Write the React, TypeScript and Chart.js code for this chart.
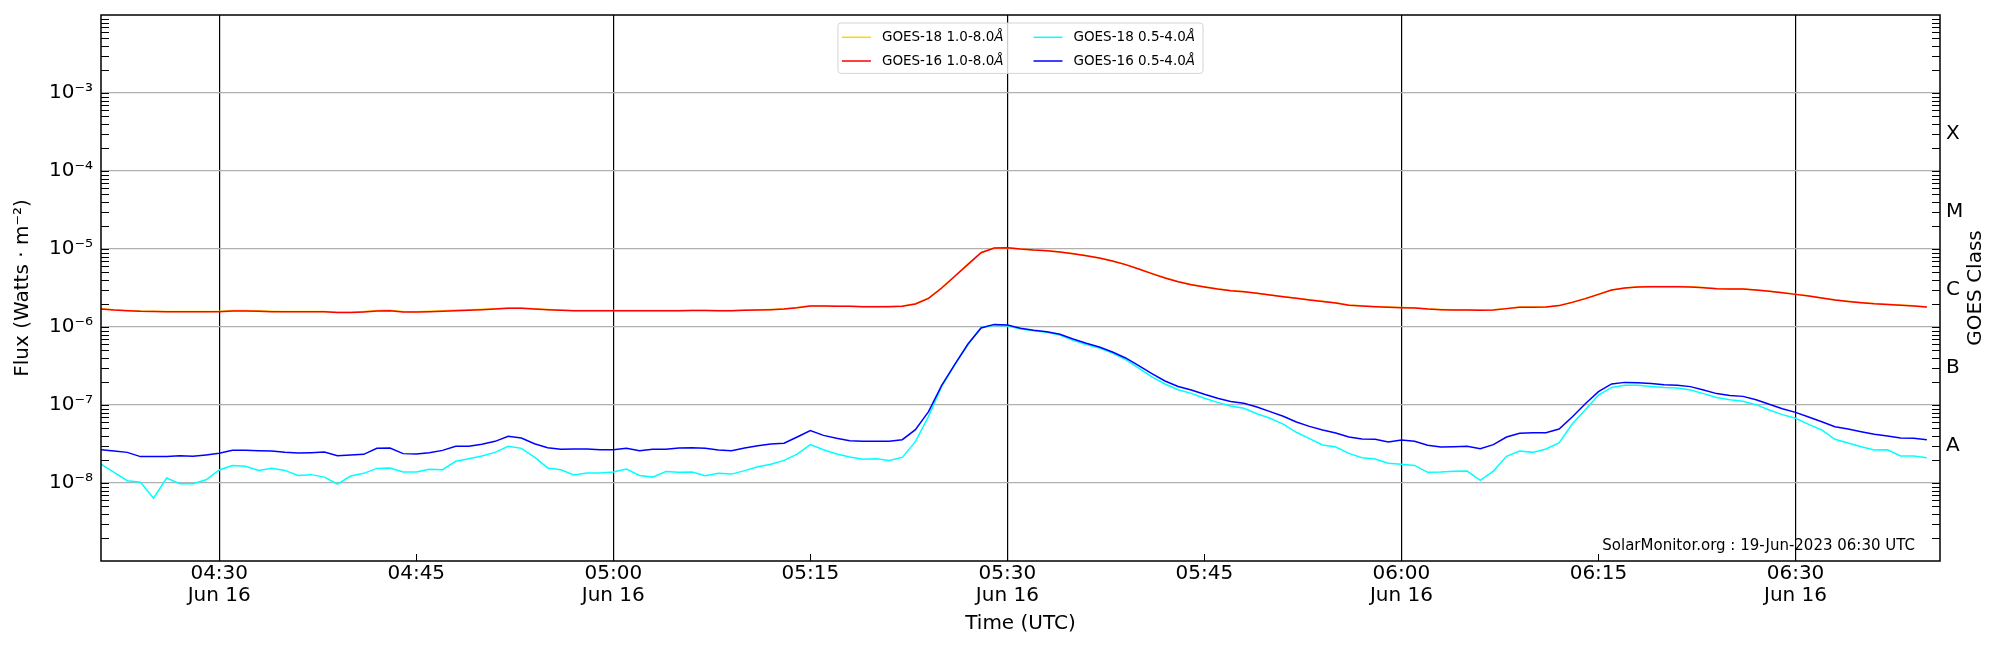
import { useEffect, useRef } from "react";
import { Chart, registerables } from "chart.js";

Chart.register(...registerables);

// one-minute samples, 16 Jun 2023
const times = [
  "04:21", "04:22", "04:23", "04:24", "04:25", "04:26", "04:27", "04:28", "04:29", "04:30",
  "04:31", "04:32", "04:33", "04:34", "04:35", "04:36", "04:37", "04:38", "04:39", "04:40",
  "04:41", "04:42", "04:43", "04:44", "04:45", "04:46", "04:47", "04:48", "04:49", "04:50",
  "04:51", "04:52", "04:53", "04:54", "04:55", "04:56", "04:57", "04:58", "04:59", "05:00",
  "05:01", "05:02", "05:03", "05:04", "05:05", "05:06", "05:07", "05:08", "05:09", "05:10",
  "05:11", "05:12", "05:13", "05:14", "05:15", "05:16", "05:17", "05:18", "05:19", "05:20",
  "05:21", "05:22", "05:23", "05:24", "05:25", "05:26", "05:27", "05:28", "05:29", "05:30",
  "05:31", "05:32", "05:33", "05:34", "05:35", "05:36", "05:37", "05:38", "05:39", "05:40",
  "05:41", "05:42", "05:43", "05:44", "05:45", "05:46", "05:47", "05:48", "05:49", "05:50",
  "05:51", "05:52", "05:53", "05:54", "05:55", "05:56", "05:57", "05:58", "05:59", "06:00",
  "06:01", "06:02", "06:03", "06:04", "06:05", "06:06", "06:07", "06:08", "06:09", "06:10",
  "06:11", "06:12", "06:13", "06:14", "06:15", "06:16", "06:17", "06:18", "06:19", "06:20",
  "06:21", "06:22", "06:23", "06:24", "06:25", "06:26", "06:27", "06:28", "06:29", "06:30",
  "06:31", "06:32", "06:33", "06:34", "06:35", "06:36", "06:37", "06:38", "06:39", "06:40",
];

const goes18Long = [
  1.71e-6, 1.66e-6, 1.63e-6, 1.60e-6, 1.59e-6, 1.58e-6, 1.58e-6, 1.58e-6, 1.58e-6, 1.59e-6,
  1.63e-6, 1.63e-6, 1.61e-6, 1.59e-6, 1.58e-6, 1.58e-6, 1.58e-6, 1.58e-6, 1.55e-6, 1.55e-6,
  1.58e-6, 1.63e-6, 1.64e-6, 1.58e-6, 1.57e-6, 1.59e-6, 1.62e-6, 1.65e-6, 1.67e-6, 1.69e-6,
  1.72e-6, 1.75e-6, 1.75e-6, 1.71e-6, 1.68e-6, 1.65e-6, 1.63e-6, 1.63e-6, 1.63e-6, 1.63e-6,
  1.63e-6, 1.63e-6, 1.63e-6, 1.63e-6, 1.63e-6, 1.64e-6, 1.64e-6, 1.63e-6, 1.63e-6, 1.65e-6,
  1.66e-6, 1.68e-6, 1.71e-6, 1.78e-6, 1.87e-6, 1.87e-6, 1.85e-6, 1.85e-6, 1.83e-6, 1.83e-6,
  1.84e-6, 1.86e-6, 1.99e-6, 2.35e-6, 3.18e-6, 4.50e-6, 6.40e-6, 9.02e-6, 1.03e-5, 1.04e-5,
  1.00e-5, 9.72e-6, 9.55e-6, 9.18e-6, 8.74e-6, 8.24e-6, 7.69e-6, 7.03e-6, 6.32e-6, 5.56e-6,
  4.85e-6, 4.27e-6, 3.83e-6, 3.51e-6, 3.28e-6, 3.09e-6, 2.94e-6, 2.85e-6, 2.71e-6, 2.58e-6,
  2.46e-6, 2.34e-6, 2.23e-6, 2.14e-6, 2.04e-6, 1.91e-6, 1.87e-6, 1.83e-6, 1.80e-6, 1.78e-6,
  1.76e-6, 1.71e-6, 1.68e-6, 1.66e-6, 1.66e-6, 1.65e-6, 1.66e-6, 1.73e-6, 1.80e-6, 1.80e-6,
  1.81e-6, 1.89e-6, 2.08e-6, 2.32e-6, 2.63e-6, 2.99e-6, 3.17e-6, 3.27e-6, 3.30e-6, 3.30e-6,
  3.30e-6, 3.27e-6, 3.20e-6, 3.11e-6, 3.08e-6, 3.08e-6, 2.99e-6, 2.88e-6, 2.76e-6, 2.63e-6,
  2.51e-6, 2.36e-6, 2.23e-6, 2.14e-6, 2.06e-6, 2.00e-6, 1.96e-6, 1.91e-6, 1.87e-6, 1.81e-6,
];

const goes16Long = [
  1.70e-6, 1.65e-6, 1.62e-6, 1.59e-6, 1.58e-6, 1.57e-6, 1.57e-6, 1.57e-6, 1.57e-6, 1.57e-6,
  1.60e-6, 1.60e-6, 1.59e-6, 1.57e-6, 1.57e-6, 1.57e-6, 1.57e-6, 1.57e-6, 1.53e-6, 1.53e-6,
  1.56e-6, 1.60e-6, 1.62e-6, 1.56e-6, 1.56e-6, 1.57e-6, 1.59e-6, 1.62e-6, 1.64e-6, 1.67e-6,
  1.70e-6, 1.74e-6, 1.74e-6, 1.70e-6, 1.67e-6, 1.64e-6, 1.62e-6, 1.62e-6, 1.62e-6, 1.62e-6,
  1.62e-6, 1.62e-6, 1.62e-6, 1.62e-6, 1.62e-6, 1.63e-6, 1.63e-6, 1.62e-6, 1.62e-6, 1.64e-6,
  1.65e-6, 1.67e-6, 1.70e-6, 1.77e-6, 1.86e-6, 1.86e-6, 1.84e-6, 1.84e-6, 1.82e-6, 1.82e-6,
  1.82e-6, 1.84e-6, 1.97e-6, 2.33e-6, 3.16e-6, 4.47e-6, 6.36e-6, 8.97e-6, 1.03e-5, 1.04e-5,
  1.00e-5, 9.70e-6, 9.53e-6, 9.16e-6, 8.72e-6, 8.22e-6, 7.67e-6, 7.01e-6, 6.30e-6, 5.54e-6,
  4.83e-6, 4.25e-6, 3.81e-6, 3.49e-6, 3.26e-6, 3.07e-6, 2.92e-6, 2.84e-6, 2.70e-6, 2.57e-6,
  2.45e-6, 2.33e-6, 2.22e-6, 2.13e-6, 2.03e-6, 1.90e-6, 1.86e-6, 1.82e-6, 1.79e-6, 1.77e-6,
  1.75e-6, 1.70e-6, 1.67e-6, 1.65e-6, 1.65e-6, 1.64e-6, 1.65e-6, 1.72e-6, 1.79e-6, 1.79e-6,
  1.80e-6, 1.88e-6, 2.07e-6, 2.31e-6, 2.62e-6, 2.98e-6, 3.16e-6, 3.26e-6, 3.29e-6, 3.29e-6,
  3.29e-6, 3.26e-6, 3.19e-6, 3.10e-6, 3.07e-6, 3.07e-6, 2.98e-6, 2.87e-6, 2.75e-6, 2.62e-6,
  2.50e-6, 2.35e-6, 2.22e-6, 2.13e-6, 2.05e-6, 1.99e-6, 1.95e-6, 1.90e-6, 1.86e-6, 1.80e-6,
];

const goes18Short = [
  1.75e-8, 1.37e-8, 1.07e-8, 1.02e-8, 6.40e-9, 1.16e-8, 9.80e-9, 9.80e-9, 1.10e-8, 1.47e-8,
  1.68e-8, 1.64e-8, 1.45e-8, 1.54e-8, 1.45e-8, 1.25e-8, 1.28e-8, 1.19e-8, 9.70e-9, 1.23e-8,
  1.33e-8, 1.54e-8, 1.56e-8, 1.38e-8, 1.38e-8, 1.50e-8, 1.48e-8, 1.90e-8, 2.05e-8, 2.22e-8,
  2.47e-8, 2.95e-8, 2.78e-8, 2.15e-8, 1.56e-8, 1.48e-8, 1.27e-8, 1.34e-8, 1.34e-8, 1.38e-8,
  1.51e-8, 1.25e-8, 1.19e-8, 1.40e-8, 1.37e-8, 1.38e-8, 1.24e-8, 1.33e-8, 1.30e-8, 1.44e-8,
  1.62e-8, 1.74e-8, 1.95e-8, 2.35e-8, 3.10e-8, 2.67e-8, 2.35e-8, 2.15e-8, 2.01e-8, 2.05e-8,
  1.95e-8, 2.13e-8, 3.39e-8, 7.16e-8, 1.73e-7, 3.29e-7, 5.94e-7, 9.90e-7, 1.05e-6, 1.04e-6,
  9.42e-7, 8.97e-7, 8.55e-7, 7.89e-7, 6.74e-7, 5.94e-7, 5.38e-7, 4.64e-7, 3.81e-7, 2.98e-7,
  2.29e-7, 1.86e-7, 1.57e-7, 1.41e-7, 1.22e-7, 1.08e-7, 9.70e-8, 9.06e-8, 7.74e-8, 6.75e-8,
  5.70e-8, 4.47e-8, 3.70e-8, 3.07e-8, 2.89e-8, 2.40e-8, 2.11e-8, 2.03e-8, 1.79e-8, 1.74e-8,
  1.68e-8, 1.37e-8, 1.38e-8, 1.41e-8, 1.42e-8, 1.08e-8, 1.42e-8, 2.20e-8, 2.57e-8, 2.47e-8,
  2.73e-8, 3.26e-8, 5.70e-8, 8.71e-8, 1.34e-7, 1.68e-7, 1.79e-7, 1.79e-7, 1.73e-7, 1.68e-7,
  1.65e-7, 1.56e-7, 1.40e-7, 1.25e-7, 1.17e-7, 1.12e-7, 1.01e-7, 8.63e-8, 7.52e-8, 6.75e-8,
  5.65e-8, 4.78e-8, 3.63e-8, 3.26e-8, 2.92e-8, 2.65e-8, 2.67e-8, 2.22e-8, 2.22e-8, 2.11e-8,
];

const goes16Short = [
  2.67e-8, 2.57e-8, 2.47e-8, 2.18e-8, 2.18e-8, 2.18e-8, 2.24e-8, 2.20e-8, 2.29e-8, 2.40e-8,
  2.62e-8, 2.62e-8, 2.60e-8, 2.57e-8, 2.47e-8, 2.42e-8, 2.45e-8, 2.50e-8, 2.24e-8, 2.29e-8,
  2.33e-8, 2.78e-8, 2.81e-8, 2.38e-8, 2.35e-8, 2.45e-8, 2.62e-8, 2.95e-8, 2.95e-8, 3.13e-8,
  3.42e-8, 3.96e-8, 3.78e-8, 3.19e-8, 2.84e-8, 2.70e-8, 2.73e-8, 2.73e-8, 2.67e-8, 2.67e-8,
  2.78e-8, 2.60e-8, 2.70e-8, 2.70e-8, 2.81e-8, 2.84e-8, 2.78e-8, 2.65e-8, 2.60e-8, 2.81e-8,
  3.01e-8, 3.16e-8, 3.23e-8, 3.89e-8, 4.69e-8, 4.08e-8, 3.74e-8, 3.49e-8, 3.42e-8, 3.42e-8,
  3.42e-8, 3.59e-8, 4.83e-8, 8.22e-8, 1.78e-7, 3.32e-7, 6.05e-7, 9.71e-7, 1.08e-6, 1.06e-6,
  9.62e-7, 9.06e-7, 8.71e-7, 8.05e-7, 7.01e-7, 6.18e-7, 5.54e-7, 4.78e-7, 4.01e-7, 3.19e-7,
  2.52e-7, 2.03e-7, 1.73e-7, 1.56e-7, 1.37e-7, 1.22e-7, 1.11e-7, 1.05e-7, 9.42e-8, 8.22e-8,
  7.16e-8, 6.05e-8, 5.32e-8, 4.78e-8, 4.38e-8, 3.89e-8, 3.66e-8, 3.63e-8, 3.36e-8, 3.56e-8,
  3.42e-8, 3.04e-8, 2.89e-8, 2.92e-8, 2.95e-8, 2.75e-8, 3.10e-8, 3.89e-8, 4.33e-8, 4.42e-8,
  4.42e-8, 4.92e-8, 7.02e-8, 1.04e-7, 1.48e-7, 1.86e-7, 1.95e-7, 1.93e-7, 1.88e-7, 1.82e-7,
  1.79e-7, 1.72e-7, 1.56e-7, 1.40e-7, 1.32e-7, 1.29e-7, 1.17e-7, 1.02e-7, 8.97e-8, 8.05e-8,
  7.02e-8, 6.11e-8, 5.27e-8, 4.92e-8, 4.55e-8, 4.21e-8, 4.01e-8, 3.78e-8, 3.74e-8, 3.59e-8,
];

const timeTicks = ["04:30", "04:45", "05:00", "05:15", "05:30", "05:45", "06:00", "06:15", "06:30"];
const dateLabel = "Jun 16";
const fluxDecades = [1e-9, 1e-8, 1e-7, 1e-6, 1e-5, 1e-4, 1e-3, 1e-2];
const classLevels = [3e-8, 3e-7, 3e-6, 3e-5, 3e-4];
const classLetters = ["A", "B", "C", "M", "X"];
const stamp = "SolarMonitor.org : 19-Jun-2023 06:30 UTC";

const FONT = "'DejaVu Sans', 'Liberation Sans', sans-serif";
const SUP: Record<string, string> = { "-": "⁻", "0": "⁰", "1": "¹", "2": "²", "3": "³", "4": "⁴", "5": "⁵", "6": "⁶", "7": "⁷", "8": "⁸", "9": "⁹" };

const toMin = (t: string) => {
  const [h, m] = t.split(":").map(Number);
  return h * 60 + m;
};
const fmtMin = (v: number) => {
  const h = Math.floor(v / 60);
  const m = Math.round(v - h * 60);
  return String(h).padStart(2, "0") + ":" + String(m).padStart(2, "0");
};
const decadeLabel = (v: number) => {
  const e = Math.round(Math.log10(v));
  if (e < -8 || e > -3) return "";
  return "10" + String(e).split("").map((c) => SUP[c]).join("");
};

const series = (vals: number[]) => vals.map((y, i) => ({ x: toMin(times[i]), y }));

// inward tick marks, frame, stamp and right-hand title
const decorPlugin = {
  id: "decor",
  afterDraw(chart: any) {
    const { ctx, chartArea: a, scales } = chart;
    const ys = scales.y;
    const xs = scales.x;
    ctx.save();
    ctx.strokeStyle = "#000";
    ctx.lineWidth = 1;
    ctx.beginPath();
    for (let e = -9; e < -2; e++) {
      for (let m = 1; m < 10; m++) {
        const py = Math.round(ys.getPixelForValue(m * Math.pow(10, e))) + 0.5;
        if (py < a.top + 1 || py > a.bottom - 1) continue;
        ctx.moveTo(a.left, py);
        ctx.lineTo(a.left + 8, py);
        ctx.moveTo(a.right, py);
        ctx.lineTo(a.right - 8, py);
      }
    }
    timeTicks.forEach((t) => {
      const v = toMin(t);
      if (v % 30 === 0) return;
      const px = Math.round(xs.getPixelForValue(v)) + 0.5;
      ctx.moveTo(px, a.bottom);
      ctx.lineTo(px, a.bottom - 7);
    });
    ctx.stroke();

    ctx.lineWidth = 1.5;
    ctx.strokeRect(a.left, a.top, a.right - a.left, a.bottom - a.top);

    ctx.fillStyle = "#000";
    ctx.font = `15px ${FONT}`;
    ctx.textAlign = "right";
    ctx.textBaseline = "alphabetic";
    ctx.fillText(stamp, a.right - 25, a.bottom - 11);

    ctx.font = `20px ${FONT}`;
    ctx.translate(a.right + 36, (a.top + a.bottom) / 2);
    ctx.rotate(-Math.PI / 2);
    ctx.textAlign = "center";
    ctx.textBaseline = "middle";
    ctx.fillText("GOES Class", 0, 0);
    ctx.restore();
  },
};

// matplotlib-like legend, two columns, upper centre
const legendPlugin = {
  id: "goesLegend",
  afterDraw(chart: any) {
    const { ctx, chartArea: a } = chart;
    const sets = chart.data.datasets;
    const fs = 13.5;
    const rowH = 23.7;
    const handle = 29;
    const gap = 11;
    const colGap = 30;
    const padL = 4;
    const padR = 8;
    ctx.save();
    const split = (s: string) => (s.endsWith("Å") ? [s.slice(0, -1), "Å"] : [s, ""]);
    const width = (s: string) => {
      const [base, tail] = split(s);
      ctx.font = `${fs}px ${FONT}`;
      let w = ctx.measureText(base).width;
      ctx.font = `italic ${fs}px ${FONT}`;
      w += ctx.measureText(tail).width;
      return w;
    };
    const cols = [
      [sets[0], sets[1]],
      [sets[2], sets[3]],
    ];
    const colW = cols.map((c) => handle + gap + Math.max(...c.map((d: any) => width(d.label))));
    const boxW = padL + padR + colW[0] + colGap + colW[1];
    const boxH = rowH * 2 + 3;
    const x0 = (a.left + a.right) / 2 - boxW / 2;
    const y0 = a.top + 8;
    ctx.beginPath();
    ctx.roundRect(x0, y0, boxW, boxH, 3);
    ctx.fillStyle = "rgba(255,255,255,0.8)";
    ctx.fill();
    ctx.strokeStyle = "#d4d4d4";
    ctx.lineWidth = 1;
    ctx.stroke();
    let cx = x0 + padL;
    cols.forEach((c, ci) => {
      c.forEach((d: any, ri: number) => {
        const cy = y0 + 14.3 + ri * rowH;
        ctx.strokeStyle = d.borderColor;
        ctx.lineWidth = 1.5;
        ctx.beginPath();
        ctx.moveTo(cx, cy);
        ctx.lineTo(cx + handle, cy);
        ctx.stroke();
        const [base, tail] = split(d.label);
        ctx.fillStyle = "#000";
        ctx.textBaseline = "middle";
        ctx.textAlign = "left";
        ctx.font = `${fs}px ${FONT}`;
        const tx = cx + handle + gap;
        ctx.fillText(base, tx, cy);
        const bw = ctx.measureText(base).width;
        ctx.font = `italic ${fs}px ${FONT}`;
        ctx.fillText(tail, tx + bw, cy);
      });
      cx += colW[ci] + colGap;
    });
    ctx.restore();
  },
};

export default function App() {
  const canvasRef = useRef<HTMLCanvasElement>(null);
  const chartRef = useRef<Chart | null>(null);

  useEffect(() => {
    document.body.style.margin = "0";
    if (!canvasRef.current) return;
    chartRef.current?.destroy();

    Chart.defaults.font.family = FONT;
    Chart.defaults.color = "#000";

    chartRef.current = new Chart(canvasRef.current, {
      type: "line",
      data: {
        datasets: [
          { label: "GOES-18 1.0-8.0Å", data: series(goes18Long), borderColor: "#ffd700", order: 4 },
          { label: "GOES-16 1.0-8.0Å", data: series(goes16Long), borderColor: "#ff0000", order: 3 },
          { label: "GOES-18 0.5-4.0Å", data: series(goes18Short), borderColor: "#00ffff", order: 2 },
          { label: "GOES-16 0.5-4.0Å", data: series(goes16Short), borderColor: "#0000ff", order: 1 },
        ].map((d) => ({ ...d, borderWidth: 1.5, pointRadius: 0, tension: 0, fill: false })),
      },
      options: {
        animation: false,
        responsive: false,
        devicePixelRatio: 1,
        layout: { padding: { top: 15, left: 0, right: 0, bottom: 0 } },
        plugins: { legend: { display: false }, tooltip: { enabled: false } },
        scales: {
          x: {
            type: "linear",
            min: toMin(times[0]),
            max: toMin("06:41"),
            afterBuildTicks: (s: any) => {
              s.ticks = timeTicks.map((t) => ({ value: toMin(t) }));
            },
            afterFit: (s: any) => {
              s.height = 89;
              s.paddingLeft = 0;
              s.paddingRight = 0;
            },
            ticks: {
              autoSkip: false,
              maxRotation: 0,
              padding: 2,
              font: { size: 20, lineHeight: 1.1 },
              callback: (v: any) => {
                const n = Number(v);
                return n % 30 === 0 ? [fmtMin(n), dateLabel] : fmtMin(n);
              },
            },
            grid: {
              drawTicks: false,
              lineWidth: 1.2,
              color: (c: any) => (c.tick && c.tick.value % 30 === 0 ? "#000" : "rgba(0,0,0,0)"),
            },
            border: { display: false },
            title: { display: true, text: "Time (UTC)", font: { size: 20 }, padding: { top: 0, bottom: 14 } },
          },
          y: {
            type: "logarithmic",
            position: "left",
            min: 1e-9,
            max: 1e-2,
            afterBuildTicks: (s: any) => {
              s.ticks = fluxDecades.map((v) => ({ value: v }));
            },
            afterFit: (s: any) => {
              s.width = 101;
              s.paddingTop = 0;
              s.paddingBottom = 0;
            },
            ticks: {
              autoSkip: false,
              padding: 8,
              font: { size: 20 },
              callback: (v: any) => decadeLabel(Number(v)),
            },
            grid: {
              drawTicks: false,
              lineWidth: 1.2,
              color: (c: any) => (c.tick && decadeLabel(c.tick.value) ? "#b0b0b0" : "rgba(0,0,0,0)"),
            },
            border: { display: false },
            title: { display: true, text: "Flux (Watts · m⁻²)", font: { size: 20 }, padding: { top: 11, bottom: 0 } },
          },
          y2: {
            type: "logarithmic",
            position: "right",
            min: 1e-9,
            max: 1e-2,
            afterBuildTicks: (s: any) => {
              s.ticks = classLevels.map((v) => ({ value: v }));
            },
            afterFit: (s: any) => {
              s.width = 60;
              s.paddingTop = 0;
              s.paddingBottom = 0;
            },
            ticks: {
              autoSkip: false,
              padding: 6,
              font: { size: 20 },
              callback: (_v: any, i: number) => classLetters[i],
            },
            grid: { drawOnChartArea: false, drawTicks: false },
            border: { display: false },
          },
        },
      },
      plugins: [decorPlugin, legendPlugin],
    } as any);

    return () => {
      chartRef.current?.destroy();
    };
  }, []);

  return (
    <div style={{ width: "2000px", height: "650px", background: "#fff" }}>
      <canvas ref={canvasRef} width={2000} height={650} style={{ width: "2000px", height: "650px" }} />
    </div>
  );
}
